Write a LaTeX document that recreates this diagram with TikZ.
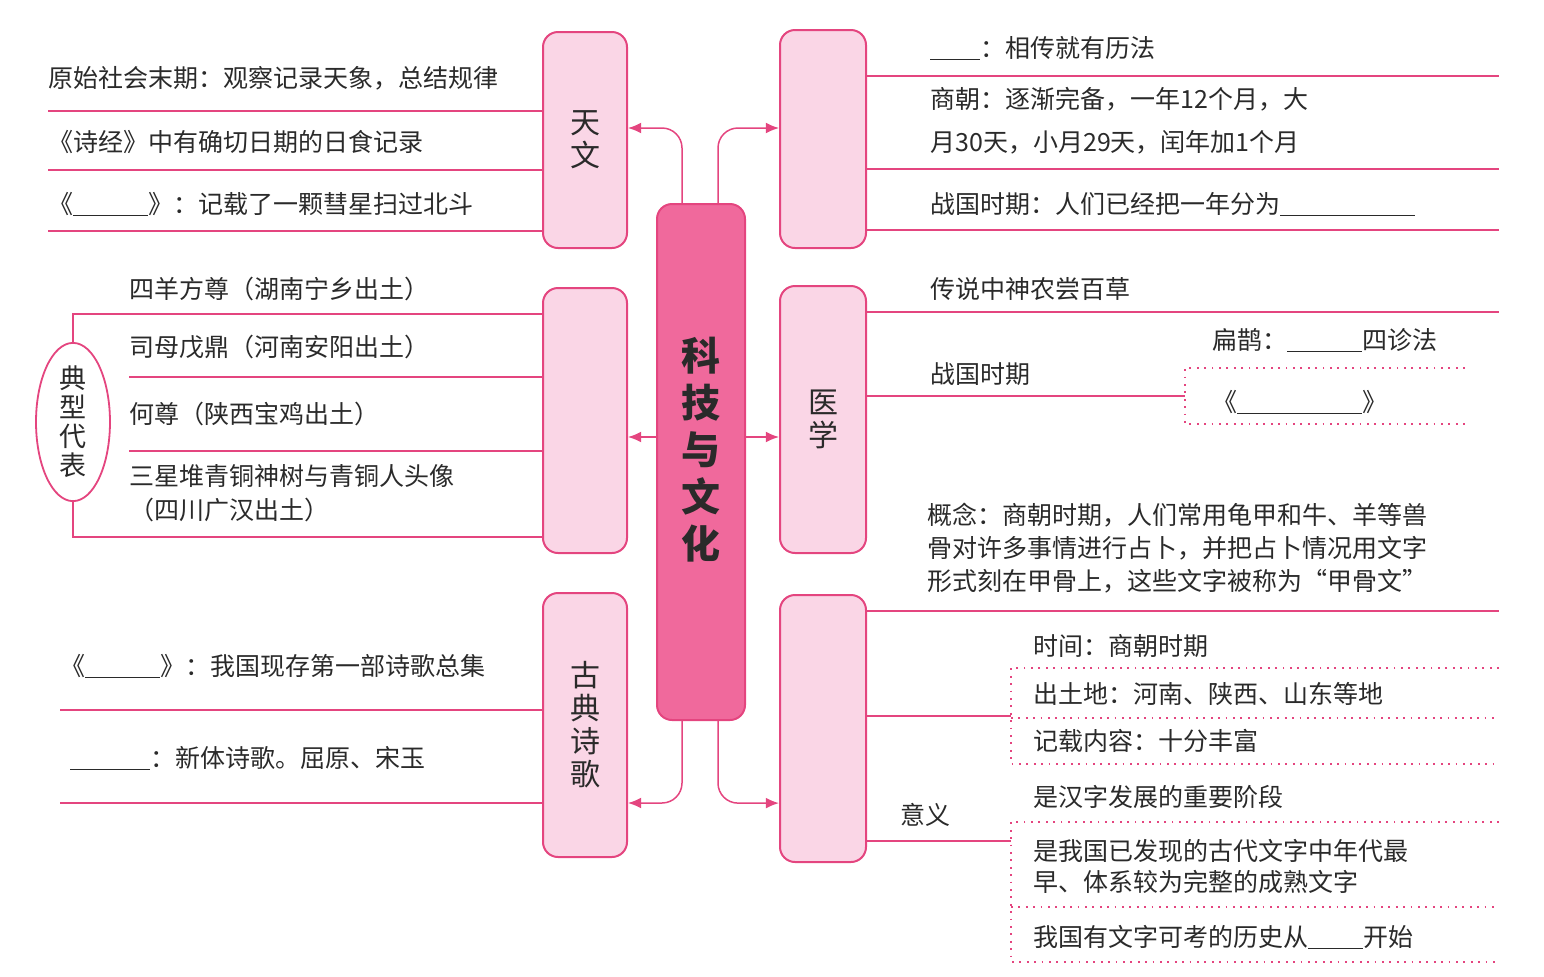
\documentclass[tikz,border=0pt]{standalone}
\usepackage{fontspec}
\setmainfont{Noto Sans CJK SC}
\usetikzlibrary{positioning,arrows.meta,shapes.geometric}
\definecolor{rose}{HTML}{E4457F}
\definecolor{blush}{HTML}{FAD6E6}
\definecolor{core}{HTML}{F0699C}
\definecolor{ink}{HTML}{2A2A2A}
\newcommand{\blank}[1]{\rule[-0.12em]{#1}{0.06em}}

\begin{document}
\begin{tikzpicture}[x=0.5pt,y=-0.5pt,
  font=\fontsize{12.5}{16.5}\selectfont,text=ink,
  cat/.style={draw=rose,line width=1pt,fill=blush,rounded corners=7.5pt,align=center,inner sep=0pt,
              font=\fontsize{15}{16.5}\selectfont},
  txt/.style={anchor=west,inner sep=0pt,align=left},
  ln/.style={draw=rose,line width=0.75pt},
  dt/.style={draw=rose,line width=0.9pt,dash pattern=on 0.9pt off 2.8pt},
  a/.style={-{Latex[length=2.3mm,width=1.9mm]},draw=rose,line width=0.75pt,rounded corners=10pt}]
\useasboundingbox (0,0) rectangle (1544,976);
\coordinate (rim) at (1499,0);

\node[cat,fill=core,minimum width=44pt,minimum height=258pt] (core) at (701,462) {};
\node[align=center,inner sep=0pt,font=\fontsize{19.5}{23.5}\selectfont\bfseries] (title) at ([yshift=6pt]core.center) {科\\技\\与\\文\\化};
\node[cat,minimum width=42pt,minimum height=108pt] (astro) at (585,140) {天\\文};
\node[cat,minimum width=42pt,minimum height=132.5pt] (bronze) at (585,420.5) {};
\node[cat,minimum width=42pt,minimum height=132pt] (poem) at (585,725) {古\\典\\诗\\歌};
\node[cat,minimum width=43pt,minimum height=109pt] (cal) at (823,139) {};
\node[cat,minimum width=43pt,minimum height=133.5pt] (med) at (823,419.5) {医\\学};
\node[cat,minimum width=43pt,minimum height=133.5pt] (oracle) at (823,728.5) {};

\draw[a] ([xshift=-9.5pt]core.north) |- ([yshift=6pt]astro.east);
\draw[a] ([xshift=8.5pt]core.north) |- ([yshift=5.5pt]cal.west);
\draw[a] ([yshift=12.5pt]core.west) -- ([yshift=12.5pt]core.west -| bronze.east);
\draw[a] ([yshift=12.5pt]core.east) -- ([yshift=12.5pt]core.east -| med.west);
\draw[a] ([xshift=-9.5pt]core.south) |- ([yshift=-39pt]poem.east);
\draw[a] ([xshift=8.5pt]core.south) |- ([yshift=-37.3pt]oracle.west);

\node[txt] (t1) at (48,78) {原始社会末期：观察记录天象，总结规律};
\node[txt] (t2) at (48,142) {《诗经》中有确切日期的日食记录};
\node[txt] (t3) at (48,204) {《\blank{3em}》：记载了一颗彗星扫过北斗};
\draw[ln] (astro.west |- 0,111) -- (t1.west |- 0,111);
\draw[ln] (astro.west |- 0,170) -- (t1.west |- 0,170);
\draw[ln] (astro.west |- 0,231) -- (t1.west |- 0,231);

\node[txt] (b1) at (129,289) {四羊方尊（湖南宁乡出土）};
\node[txt] (b2) at (129,347) {司母戊鼎（河南安阳出土）};
\node[txt] (b3) at (129,414) {何尊（陕西宝鸡出土）};
\node[txt,font=\fontsize{12.5}{17}\selectfont] (b4) at (129,493) {三星堆青铜神树与青铜人头像\\（四川广汉出土）};
\node[ellipse,draw=rose,fill=white,line width=0.9pt,minimum width=37pt,minimum height=75pt,inner sep=0pt,
      align=center,font=\fontsize{13.5}{14.5}\selectfont] (rep) at (73,422) {典\\型\\代\\表};
\draw[ln] (bronze.west |- 0,314) -| (rep.north);
\draw[ln] (bronze.west |- 0,537) -| (rep.south);
\draw[ln] (bronze.west |- 0,377) -- (b1.west |- 0,377);
\draw[ln] (bronze.west |- 0,451) -- (b1.west |- 0,451);

\node[txt] (p1) at (60,666) {《\blank{3em}》：我国现存第一部诗歌总集};
\node[txt] (p2) at (70,758) {\blank{3.2em}：新体诗歌。屈原、宋玉};
\draw[ln] (poem.west |- 0,710) -- (p1.west |- 0,710);
\draw[ln] (poem.west |- 0,803) -- (p1.west |- 0,803);

\node[txt] (c1) at (930,48) {\blank{2em}：相传就有历法};
\node[txt] (c2) at (930,99) {商朝：逐渐完备，一年12个月，大};
\node[txt] (c3) at (930,142) {月30天，小月29天，闰年加1个月};
\node[txt] (c4) at (930,204) {战国时期：人们已经把一年分为\blank{5.4em}};
\draw[ln] (cal.east |- 0,76) -- (rim |- 0,76);
\draw[ln] (cal.east |- 0,169) -- (rim |- 0,169);
\draw[ln] (cal.east |- 0,230) -- (rim |- 0,230);

\node[txt] (m1) at (930,289) {传说中神农尝百草};
\node[txt] (m2) at (930,374) {战国时期};
\node[txt] (m3) at (1212,340) {扁鹊：\blank{3em}四诊法};
\node[txt] (m4) at (1212,402) {《\blank{5em}》};
\coordinate (mk) at (1185,396);
\draw[ln] (med.east |- 0,312) -- (rim |- 0,312);
\draw[ln] (med.east |- mk) -- (mk);
\draw[dt] (1465,368) -- (mk |- 0,368) -- (mk |- 0,424) -- (1465,424);

\node[txt] (o1) at (927,548) {概念：商朝时期，人们常用龟甲和牛、羊等兽\\骨对许多事情进行占卜，并把占卜情况用文字\\形式刻在甲骨上，这些文字被称为“甲骨文”};
\node[txt] (o2) at (1033,646) {时间：商朝时期};
\node[txt] (o3) at (1033,694) {出土地：河南、陕西、山东等地};
\node[txt] (o4) at (1033,741) {记载内容：十分丰富};
\node[txt] (o5) at (900,815) {意义};
\node[txt] (o6) at (1033,797) {是汉字发展的重要阶段};
\node[txt,font=\fontsize{12.5}{15.5}\selectfont] (o7) at (1033,866) {是我国已发现的古代文字中年代最\\早、体系较为完整的成熟文字};
\node[txt] (o8) at (1033,937) {我国有文字可考的历史从\blank{2.2em}开始};
\coordinate (k1) at (1011,716);
\coordinate (k2) at (1011,841);
\draw[ln] (oracle.east |- 0,611) -- (rim |- 0,611);
\draw[ln] (oracle.east |- k1) -- (k1);
\draw[ln] (oracle.east |- k2) -- (k2);
\draw[dt] (rim |- 0,668) -- (k1 |- 0,668) -- (k1 |- 0,764) -- (rim |- 0,764);
\draw[dt] (k1 |- 0,718) -- (rim |- 0,718);
\draw[dt] (rim |- 0,822) -- (k2 |- 0,822) -- (k2 |- 0,962) -- (rim |- 0,962);
\draw[dt] (k2 |- 0,907) -- (rim |- 0,907);
\end{tikzpicture}
\end{document}
